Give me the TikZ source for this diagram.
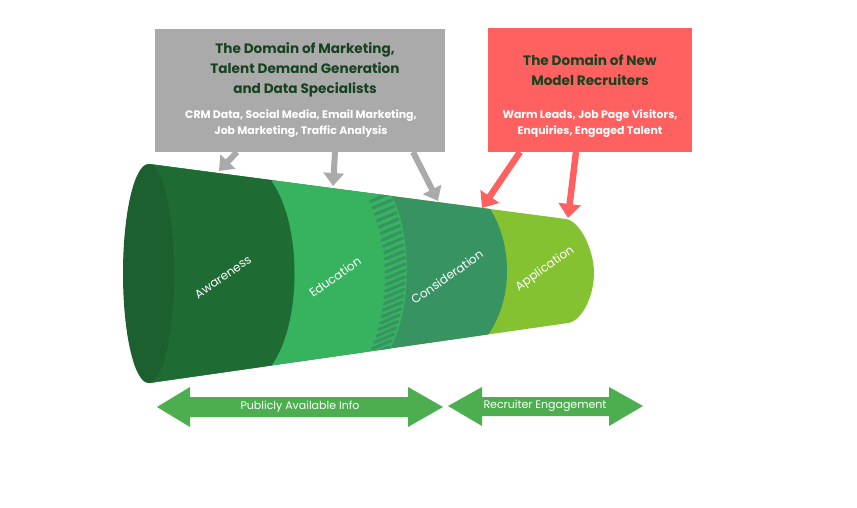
\documentclass[tikz,border=0pt]{standalone}
\usepackage{fontspec}
\setmainfont{Poppins}
\usetikzlibrary{arrows.meta}
\definecolor{awc}{HTML}{1E6B33}
\definecolor{capc}{HTML}{1C6030}
\definecolor{edc}{HTML}{37B25F}
\definecolor{coc}{HTML}{379361}
\definecolor{apc}{HTML}{85C232}
\definecolor{grayc}{HTML}{AAAAAA}
\definecolor{redc}{HTML}{FF6161}
\definecolor{titc}{HTML}{16421F}
\definecolor{dblc}{HTML}{4DAE50}
\begin{document}
\begin{tikzpicture}[x=1pt,y=-1pt,
  box/.style={inner sep=0pt, outer sep=0pt},
  boxtitle/.style={font=\bfseries\fontsize{13.6}{20}\selectfont, text=titc, align=center, inner sep=0pt},
  boxsub/.style={font=\bfseries\fontsize{10.9}{16}\selectfont, text=white, align=center, inner sep=0pt},
  stage/.style={font=\fontsize{12}{14}\selectfont, text=white, rotate=35, inner sep=0pt},
  grayarrow/.style={draw=grayc, line width=6pt, -{Triangle[width=20pt,length=13pt]}},
  redarrow/.style={draw=redc, line width=6.5pt, -{Triangle[width=22pt,length=14pt]}},
  bandlabel/.style={font=\fontsize{11}{13}\selectfont, text=white, inner sep=0pt}
]
\useasboundingbox (0,0) rectangle (857,508);

% boxes
\node[box, fill=grayc, minimum width=290pt, minimum height=123pt] (mk) at (300,90.5) {};
\node[boxtitle] (mkt) at (305,70) {The Domain of Marketing,\\Talent Demand Generation\\and Data Specialists};
\node[boxsub] (mks) at (301,124) {CRM Data, Social Media, Email Marketing,\\Job Marketing, Traffic Analysis};

\node[box, fill=redc, minimum width=204pt, minimum height=124pt] (nm) at (590,90) {};
\node[boxtitle] (nmt) at (590,70.5) {The Domain of New\\Model Recruiters};
\node[boxsub] (nms) at (590,124) {Warm Leads, Job Page Visitors,\\Enquiries, Engaged Talent};

% funnel
\begin{scope}
\clip (149,164) -- (566,219) .. controls (580,221) and (594,250) .. (594,273)
      .. controls (594,296) and (582,321) .. (568,323) -- (149,383) -- cycle;
\fill[apc] (100,150) rectangle (620,400);
\fill[coc] (100,150) -- (490,150) -- (490,208.7) .. controls (513,245) and (513,300) .. (488,334.7) -- (488,400) -- (100,400) -- cycle;
\fill[edc] (100,150) -- (392,150) -- (392,196) .. controls (412,235) and (412,310) .. (390,349) -- (390,400) -- (100,400) -- cycle;
\foreach \i in {0,...,24} {
  \pgfmathsetmacro\yy{197+\i*6.4}
  \pgfmathsetmacro\xx{391+16*(1-((\yy-273)/77)^2)}
  \draw[coc, line width=3pt, line cap=round] (\xx-21,\yy+4.5) -- (\xx-2,\yy-3.5);
}
\fill[awc] (100,150) -- (272,150) -- (272,182) .. controls (302,225) and (302,322) .. (272,365) -- (272,400) -- (100,400) -- cycle;
\end{scope}
\fill[capc] (148.5,273.5) ellipse [x radius=25.5pt, y radius=109.5pt];

\node[stage] (aw) at (223,277) {Awareness};
\node[stage] (ed) at (335,277) {Education};
\node[stage] (co) at (447,277) {Consideration};
\node[stage] (ap) at (545,269) {Application};

% arrow targets
\coordinate (t1) at (219,171);
\coordinate (t2) at (333,186);
\coordinate (t3) at (438,201);
\coordinate (t4) at (482,208);
\coordinate (t5) at (568,218);

\draw[grayarrow] (mk.south -| 237,0) -- (t1);
\draw[grayarrow] (mk.south -| 335,0) -- (t2);
\draw[grayarrow] (mk.south -| 413,0) -- (t3);
\draw[redarrow] (nm.south -| 520,0) -- (t4);
\draw[redarrow] (nm.south -| 576,0) -- (t5);

% bottom double arrows
\fill[dblc] (157,407) -- (190,387) -- (190,397) -- (408,397) -- (408,387) -- (443,407)
  -- (408,427) -- (408,417) -- (190,417) -- (190,427) -- cycle;
\node[bandlabel] (pub) at (300,406.5) {Publicly Available Info};
\fill[dblc] (448,406) -- (482,387) -- (482,397) -- (609,397) -- (609,387) -- (643,406)
  -- (609,426) -- (609,416) -- (482,416) -- (482,426) -- cycle;
\node[bandlabel] (rec) at (545,406) {Recruiter Engagement};
\end{tikzpicture}
\end{document}
